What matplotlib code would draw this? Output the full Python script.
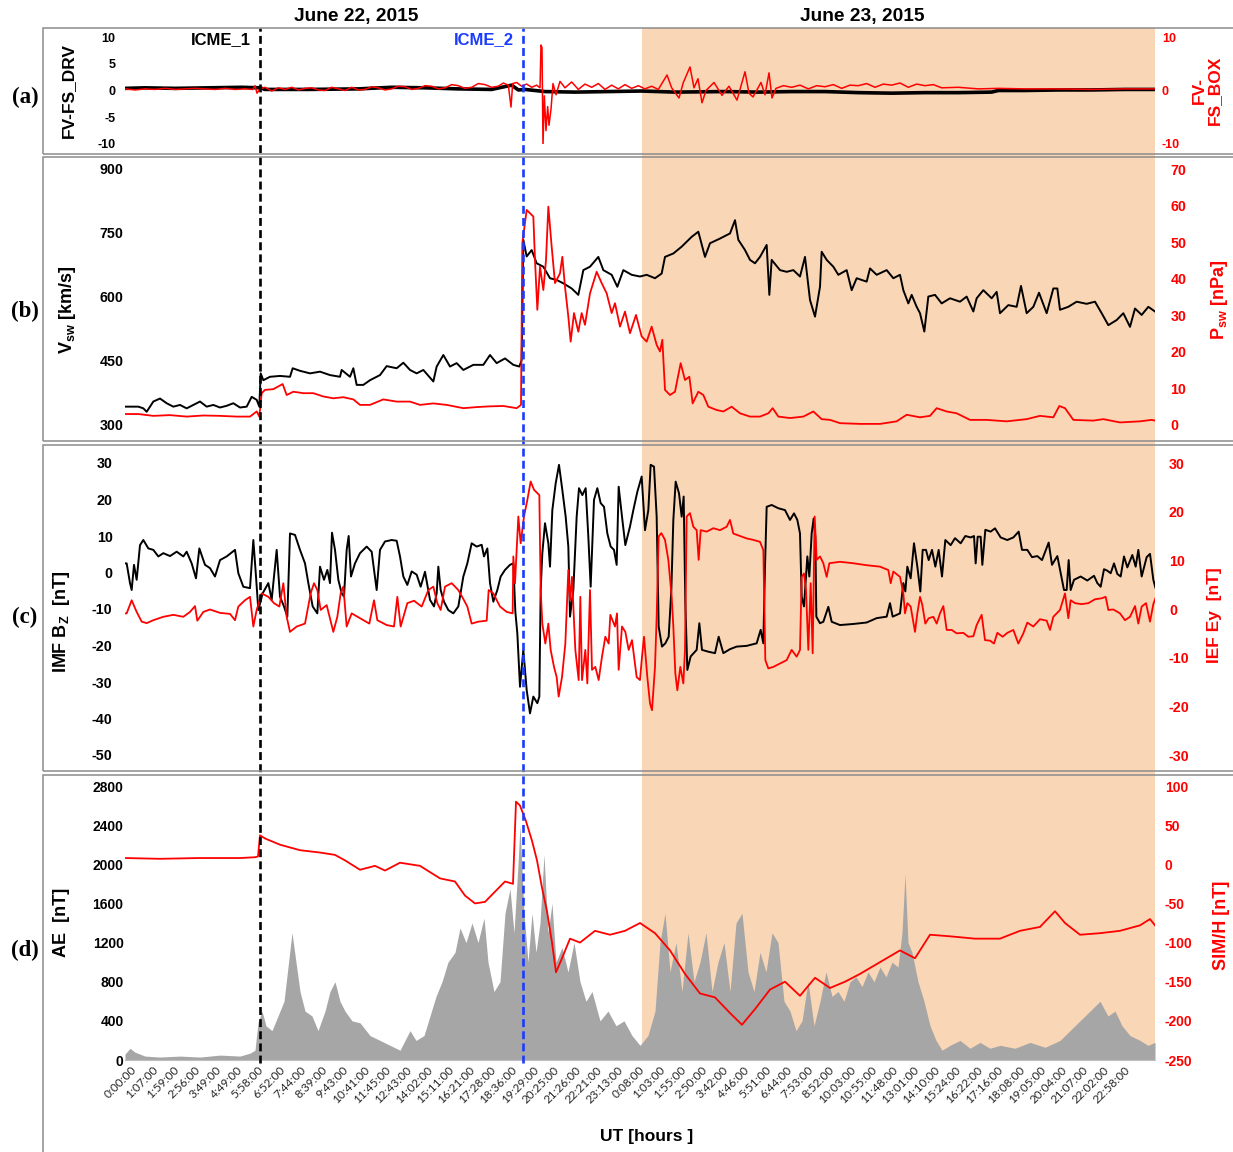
import numpy as np
import matplotlib.pyplot as plt
from matplotlib import transforms
from matplotlib.patches import Rectangle
from matplotlib.lines import Line2D

plt.rcParams['font.family'] = ['Liberation Sans', 'DejaVu Sans']
plt.rcParams['axes.unicode_minus'] = False
plt.rcParams['mathtext.fontset'] = 'custom'
plt.rcParams['mathtext.rm'] = 'Liberation Sans:bold'
plt.rcParams['mathtext.it'] = 'Liberation Sans:bold'
plt.rcParams['mathtext.bf'] = 'Liberation Sans:bold'

# x axis: record number of the merged 1-min data set (category axis)
TIMES = ['0:00:00', '1:07:00', '1:59:00', '2:56:00', '3:49:00', '4:49:00', '5:58:00', '6:52:00',
         '7:44:00', '8:39:00', '9:43:00', '10:41:00', '11:45:00', '12:43:00', '14:02:00', '15:11:00',
         '16:21:00', '17:28:00', '18:36:00', '19:29:00', '20:25:00', '21:26:00', '22:21:00', '23:13:00',
         '0:08:00', '1:03:00', '1:55:00', '2:50:00', '3:42:00', '4:46:00', '5:51:00', '6:44:00',
         '7:53:00', '8:52:00', '10:03:00', '10:55:00', '11:48:00', '13:01:00', '14:10:00', '15:24:00',
         '16:22:00', '17:16:00', '18:08:00', '19:05:00', '20:04:00', '21:07:00', '22:02:00', '22:58:00']
TICK0, TICK_STEP = 30, 63.4
N_REC = 3090
ICME_1 = 405
ICME_2 = 1194
SHADE_START = 1551

# (a) FV-FS_DRV (black) and FV-FS_BOX (red)
fv_drv = [(0, 0.4), (60, 0.5), (150, 0.4), (250, 0.5), (350, 0.6), (405, 0.5), (420, 0.2), (550, 0.2),
          (700, 0.3), (800, 0.6), (900, 0.5), (1000, 0.3), (1100, 0.2), (1160, 1.0), (1180, 0.1),
          (1200, 0.2), (1260, -0.2), (1350, -0.3), (1450, -0.2), (1550, -0.1), (1650, -0.3),
          (1800, -0.2), (1900, -0.3), (2000, -0.2), (2100, -0.2), (2200, -0.4), (2300, -0.5),
          (2400, -0.4), (2500, -0.4), (2600, -0.3), (2620, 0.0), (2700, 0.0), (2800, 0.1),
          (2900, 0.1), (3000, 0.2), (3090, 0.2)]
fv_box = [(0, 0.3), (30, 0.1), (60, 0.3), (90, 0.2), (120, 0.4), (150, 0.2), (180, 0.3), (210, 0.4),
          (240, 0.3), (270, 0.2), (300, 0.4), (330, 0.2), (360, 0.3), (384, 0.2), (390, 0.9),
          (396, -0.5), (405, 0.3), (420, 0.6), (440, -0.1), (460, 0.5), (480, 0.2), (500, 0.6),
          (520, 0.1), (540, 0.4), (560, 0.5), (580, 0.1), (600, 0.0), (620, 0.6), (640, 0.3),
          (660, 0.0), (680, 0.6), (700, 0.1), (720, 0.2), (740, 0.7), (760, 0.5), (780, 0.1),
          (800, 0.3), (820, 0.8), (840, 0.7), (860, 0.2), (880, 0.4), (900, 0.9), (920, 0.8),
          (940, 0.3), (960, 0.5), (980, 1.1), (1000, 0.9), (1020, 0.4), (1040, 0.6), (1060, 1.3),
          (1080, 1.1), (1100, 0.6), (1120, 0.8), (1135, 1.4), (1150, 1.0), (1158, -3.1), (1163, 1.3),
          (1175, 1.5), (1190, 0.8), (1205, 1.2), (1220, 0.6), (1235, 1.0), (1245, 0.5), (1248, 8.5),
          (1251, 8.0), (1254, -10.2), (1258, -1.0), (1263, -7.5), (1268, -3.0), (1272, -6.5),
          (1278, -3.5), (1284, 1.3), (1293, -0.8), (1305, 1.7), (1320, 0.5), (1340, 1.6), (1360, 0.2),
          (1380, 1.2), (1400, 0.6), (1420, 1.3), (1440, 0.2), (1460, 1.0), (1480, 0.3), (1500, 1.1),
          (1520, 0.4), (1540, 0.9), (1560, 0.3), (1580, 0.8), (1600, 0.2), (1626, 2.9), (1640, 0.5),
          (1662, -1.4), (1675, 1.5), (1695, 4.4), (1707, 0.5), (1719, 2.2), (1731, -2.3), (1743, 0.0),
          (1767, 1.5), (1791, -0.9), (1812, 0.8), (1836, -1.8), (1860, 3.5), (1872, -0.5), (1884, -1.2),
          (1908, 1.5), (1920, -0.8), (1932, 3.3), (1941, -1.4), (1953, 0.4), (1975, 0.9), (2000, 0.6),
          (2025, 1.0), (2050, 0.3), (2075, 0.9), (2100, 0.7), (2125, 1.1), (2150, 0.4), (2175, 1.0),
          (2200, 0.9), (2225, 1.3), (2250, 0.6), (2275, 1.2), (2300, 1.0), (2325, 1.4), (2350, 0.6),
          (2375, 1.2), (2400, 0.9), (2425, 1.1), (2450, 0.5), (2500, 0.6), (2560, 0.3), (2620, 0.4),
          (2700, 0.3), (2800, 0.3), (2900, 0.2), (3000, 0.3), (3090, 0.3)]

# (b) solar wind speed (black, km/s) and dynamic pressure (red, nPa)
v_sw = [(0, 343), (40, 343), (55, 339), (65, 331), (85, 355), (105, 362), (125, 351), (145, 343),
        (165, 347), (185, 339), (205, 347), (225, 355), (245, 343), (265, 347), (285, 341), (305, 345),
        (325, 351), (345, 341), (365, 343), (380, 366), (395, 359), (403, 343), (407, 421), (415, 405),
        (435, 413), (465, 415), (495, 413), (503, 433), (525, 427), (555, 421), (585, 425), (615, 417),
        (645, 413), (650, 429), (675, 413), (685, 433), (695, 394), (715, 394), (735, 405), (765, 417),
        (785, 438), (815, 433), (835, 446), (855, 429), (875, 421), (895, 429), (925, 402), (935, 437),
        (955, 464), (975, 437), (995, 445), (1015, 429), (1045, 441), (1075, 441), (1095, 464),
        (1115, 445), (1140, 456), (1165, 441), (1183, 437), (1190, 452), (1195, 734), (1205, 695),
        (1220, 710), (1235, 679), (1255, 671), (1275, 644), (1295, 640), (1315, 632), (1340, 620),
        (1360, 605), (1375, 663), (1395, 671), (1420, 694), (1435, 663), (1460, 652), (1477, 624),
        (1495, 663), (1520, 652), (1545, 648), (1565, 652), (1590, 644), (1610, 655), (1620, 694),
        (1645, 702), (1670, 718), (1700, 741), (1720, 753), (1740, 694), (1755, 726), (1785, 737),
        (1815, 749), (1830, 780), (1840, 734), (1860, 710), (1875, 687), (1890, 679), (1905, 694),
        (1925, 722), (1933, 605), (1940, 687), (1965, 663), (1985, 659), (2005, 663), (2025, 648),
        (2040, 694), (2055, 593), (2070, 554), (2085, 624), (2090, 706), (2105, 687), (2125, 671),
        (2140, 652), (2165, 663), (2180, 616), (2195, 644), (2225, 636), (2235, 667), (2255, 652),
        (2285, 663), (2305, 644), (2325, 652), (2335, 616), (2350, 585), (2360, 605), (2375, 577),
        (2385, 562), (2398, 519), (2410, 601), (2430, 605), (2450, 585), (2475, 597), (2505, 589),
        (2525, 601), (2545, 566), (2555, 597), (2575, 616), (2600, 597), (2615, 612), (2625, 562),
        (2650, 581), (2675, 577), (2688, 626), (2705, 562), (2725, 577), (2742, 610), (2765, 562),
        (2785, 620), (2797, 620), (2805, 570), (2830, 577), (2855, 589), (2885, 584), (2910, 589),
        (2930, 562), (2950, 534), (2975, 546), (2995, 562), (3015, 530), (3030, 573), (3050, 558),
        (3070, 577), (3090, 566)]
p_sw = [(0, 3.0), (40, 3.0), (85, 2.5), (135, 2.7), (185, 2.3), (235, 2.6), (285, 2.5), (335, 2.3),
        (375, 2.3), (395, 3.7), (403, 2.3), (410, 8.7), (420, 9.6), (445, 9.8), (473, 11.2), (485, 8.2),
        (505, 9.1), (535, 8.7), (565, 8.7), (595, 7.8), (625, 7.3), (655, 7.6), (685, 7.0), (705, 5.5),
        (735, 5.5), (775, 7.0), (815, 6.4), (855, 6.4), (885, 5.5), (925, 5.9), (965, 5.5), (1015, 4.6),
        (1055, 4.9), (1095, 5.1), (1135, 5.2), (1175, 4.6), (1188, 5.5), (1192, 49.7), (1205, 58.8),
        (1215, 57.9), (1225, 57.0), (1230, 45.1), (1237, 31.5), (1245, 43.3), (1255, 36.9),
        (1263, 45.1), (1270, 59.7), (1280, 48.8), (1290, 38.8), (1305, 41.5), (1312, 46.0),
        (1320, 37.8), (1330, 29.6), (1337, 22.8), (1347, 30.6), (1360, 25.5), (1370, 30.6),
        (1380, 27.4), (1395, 36.0), (1415, 41.9), (1430, 38.8), (1445, 36.0), (1460, 30.6),
        (1470, 33.3), (1485, 26.9), (1500, 31.0), (1515, 25.1), (1533, 30.1), (1550, 24.2),
        (1565, 22.8), (1580, 26.9), (1595, 21.9), (1605, 20.1), (1612, 23.3), (1620, 9.6), (1635, 8.2),
        (1650, 9.1), (1667, 16.9), (1680, 12.3), (1693, 13.2), (1703, 5.9), (1720, 9.1), (1735, 8.2),
        (1750, 5.0), (1775, 4.1), (1795, 3.7), (1820, 5.0), (1845, 3.2), (1875, 2.3), (1905, 2.3),
        (1930, 3.2), (1943, 4.6), (1960, 2.3), (1995, 1.9), (2035, 2.3), (2065, 3.7), (2090, 1.6),
        (2115, 1.4), (2145, 0.5), (2205, 0.3), (2265, 0.3), (2315, 1.0), (2345, 2.8), (2385, 2.1),
        (2415, 2.5), (2435, 4.6), (2465, 3.7), (2495, 3.2), (2535, 1.4), (2585, 1.4), (2645, 1.0),
        (2705, 1.6), (2745, 2.5), (2785, 2.1), (2803, 5.2), (2820, 4.6), (2845, 1.4), (2905, 1.2),
        (2935, 1.6), (2985, 0.7), (3045, 1.0), (3080, 1.4), (3090, 1.2)]

# (c) IMF Bz (black, nT) and IEF Ey (red)
bz = [(0, 2.5), (5, 2.5), (15, -2.9), (20, -4.8), (27, 2.1), (35, -2.0), (45, 7.5), (55, 8.9), (70, 6.6),
      (85, 6.2), (100, 4.4), (115, 5.3), (135, 4.5), (155, 5.7), (175, 4.4), (185, 5.7), (200, 2.5),
      (213, -1.6), (223, 6.6), (240, 2.1), (255, 1.2), (270, -1.1), (285, 3.4), (305, 4.4), (330, 6.2),
      (340, -0.2), (355, -3.9), (375, -4.3), (385, 8.9), (393, -1.1), (400, -10.3), (413, -5.7),
      (430, -2.9), (440, -7.5), (455, 6.2), (465, -6.6), (477, -9.3), (487, -12.1), (495, 10.7),
      (510, 10.3), (525, 6.2), (540, 2.5), (550, -2.9), (563, -9.3), (577, -11.2), (585, 1.6),
      (597, -2.0), (607, 0.7), (615, -2.9), (621, 10.9), (630, 6.2), (640, -2.0), (650, -5.7),
      (657, -6.6), (665, 6.2), (671, 10.0), (678, -1.1), (690, 2.5), (705, 5.3), (725, 7.1), (740, 5.7),
      (747, 0.7), (755, -4.8), (765, 6.2), (780, 8.5), (800, 8.9), (815, 8.7), (825, 4.4), (835, -1.1),
      (847, -3.4), (860, 0.3), (875, -0.6), (887, -3.9), (900, 0.2), (915, -7.5), (927, -9.3),
      (935, -5.7), (940, 1.6), (947, -4.8), (957, -8.0), (970, -10.3), (985, -11.2), (1000, -9.3),
      (1015, -1.1), (1027, 2.5), (1040, 8.0), (1055, 7.1), (1070, 7.6), (1077, 4.4), (1087, 6.6),
      (1095, -2.9), (1105, -8.0), (1117, -4.8), (1127, -1.1), (1140, 0.7), (1155, 2.1), (1165, 2.5),
      (1171, -10.7), (1177, -16.7), (1185, -31.3), (1195, -21.2), (1205, -32.2), (1215, -38.6),
      (1225, -34.0), (1237, -35.8), (1243, -34.0), (1247, -4.8), (1252, 5.3), (1260, 13.5), (1270, 8.0),
      (1275, 1.6), (1282, 17.1), (1292, 24.4), (1302, 29.5), (1312, 22.6), (1322, 15.3), (1330, 7.1),
      (1335, -12.1), (1345, -4.8), (1355, 15.3), (1362, 23.1), (1372, 21.2), (1382, 23.1), (1390, 9.8),
      (1397, -3.9), (1407, 19.9), (1417, 23.1), (1427, 19.0), (1437, 18.0), (1447, 10.7), (1457, 7.1),
      (1467, 6.2), (1475, 2.1), (1481, 23.5), (1491, 15.3), (1501, 7.5), (1515, 12.6), (1525, 17.1),
      (1537, 22.1), (1550, 26.3), (1560, 11.6), (1570, 17.1), (1577, 29.5), (1587, 29.0), (1595, 15.3),
      (1601, -14.8), (1611, -20.3), (1621, -19.4), (1631, -17.6), (1639, -4.8), (1645, 14.4),
      (1652, 24.9), (1662, 21.7), (1670, 15.3), (1676, 20.8), (1681, -8.4), (1687, -26.7),
      (1697, -23.0), (1715, -21.2), (1723, -13.9), (1731, -21.2), (1750, -21.7), (1770, -22.1),
      (1781, -17.6), (1795, -22.1), (1815, -21.0), (1835, -20.3), (1865, -20.1), (1895, -19.4),
      (1907, -15.7), (1915, -19.4), (1920, 1.6), (1925, 18.0), (1940, 18.5), (1960, 17.6), (1980, 17.1),
      (1995, 14.4), (2007, 16.2), (2017, 14.4), (2025, 10.7), (2030, -6.6), (2037, -9.3), (2043, -1.1),
      (2047, 4.4), (2053, -1.1), (2060, 10.7), (2066, 14.8), (2071, 9.8), (2074, -12.1), (2085, -13.9),
      (2095, -13.5), (2110, -9.4), (2120, -13.5), (2145, -14.4), (2185, -14.1), (2225, -13.7),
      (2255, -12.5), (2285, -12.1), (2295, -8.4), (2303, -12.1), (2325, -11.2), (2335, -2.9),
      (2341, -5.2), (2347, 1.6), (2357, -1.6), (2367, 8.0), (2377, 1.6), (2386, -5.2), (2393, 6.2),
      (2403, 6.2), (2411, 3.4), (2421, 6.2), (2431, 1.6), (2441, 6.2), (2451, -1.1), (2461, 8.9),
      (2477, 7.5), (2490, 9.4), (2507, 8.0), (2521, 10.0), (2537, 9.6), (2547, 10.0), (2552, 2.5),
      (2558, 9.8), (2567, 9.8), (2572, 2.1), (2581, 11.7), (2597, 11.2), (2610, 12.1), (2627, 9.6),
      (2647, 8.9), (2665, 9.6), (2681, 11.2), (2691, 6.2), (2707, 6.2), (2721, 4.2), (2737, 4.5),
      (2751, 3.4), (2771, 8.2), (2781, 2.1), (2797, 4.5), (2807, -0.2), (2817, -4.8), (2825, -4.8),
      (2831, 3.4), (2837, -4.8), (2847, -2.0), (2867, -1.1), (2887, -2.2), (2907, -0.9), (2917, -2.9),
      (2927, -3.9), (2937, 0.9), (2947, 0.5), (2957, -0.2), (2967, 2.5), (2977, -0.4), (2987, -1.1),
      (2997, 4.4), (3007, 1.4), (3022, 4.8), (3032, 1.6), (3040, 6.2), (3050, -1.1), (3065, 4.2),
      (3075, 5.1), (3085, -2.0), (3091, -4.1)]
ey = [(0, -0.9), (5, -0.9), (20, 1.8), (35, -0.6), (50, -2.6), (65, -2.9), (85, -2.3), (115, -1.6),
      (145, -1.2), (175, -1.6), (195, -0.6), (210, 0.6), (217, -2.4), (235, -0.6), (255, -0.1),
      (285, -0.8), (315, -1.0), (330, -2.3), (340, 0.5), (360, 1.8), (375, 2.5), (385, -3.6),
      (395, -0.2), (410, 3.2), (430, 2.5), (447, 1.2), (463, 0.5), (475, 5.3), (485, -1.6), (495, -4.7),
      (515, -3.6), (540, -3.0), (557, 3.2), (567, 5.3), (577, 3.9), (587, -0.2), (605, 0.8), (625, -4.7),
      (637, -1.6), (647, 3.2), (655, 4.6), (665, -3.6), (680, -0.9), (705, -1.9), (733, -3.0),
      (747, 1.8), (757, -2.3), (785, -3.3), (807, -3.6), (817, 2.5), (827, -3.6), (847, 1.2),
      (867, 1.7), (890, 0.5), (910, 3.9), (925, 4.6), (937, 1.2), (947, -0.2), (960, 4.6), (980, 5.3),
      (1000, 3.9), (1017, 1.8), (1027, 0.5), (1040, -3.0), (1060, -2.6), (1085, -2.4), (1091, 3.9),
      (1105, 3.2), (1125, 0.5), (1145, -0.6), (1163, -0.9), (1165, 10.8), (1170, 5.3), (1180, 19.0),
      (1187, 13.5), (1197, 19.0), (1207, 22.4), (1217, 26.2), (1227, 24.5), (1237, 23.8), (1243, 23.4),
      (1247, 3.9), (1252, -3.0), (1261, -7.1), (1270, -3.0), (1277, -8.4), (1287, -11.9), (1295, -14.0),
      (1301, -18.0), (1311, -14.0), (1321, -7.1), (1330, 8.0), (1335, 1.8), (1341, 6.6), (1351, -8.4),
      (1361, -14.6), (1366, 2.5), (1371, -14.6), (1381, -8.4), (1387, -15.3), (1395, 3.9),
      (1401, -12.5), (1411, -11.9), (1421, -14.6), (1431, -9.8), (1441, -5.7), (1451, -7.1),
      (1456, -1.2), (1470, -3.6), (1476, -0.9), (1481, -12.5), (1491, -3.6), (1501, -4.7), (1511, -8.4),
      (1521, -6.4), (1535, -14.0), (1545, -14.6), (1551, -9.8), (1557, -5.7), (1567, -14.0),
      (1575, -19.4), (1581, -20.8), (1590, -11.9), (1595, -1.6), (1601, 14.9), (1609, 15.6),
      (1620, 14.2), (1630, 10.1), (1640, 2.5), (1645, -3.6), (1651, -13.2), (1657, -16.7), (1666, -11.9),
      (1675, -15.3), (1680, -8.4), (1685, 19.0), (1695, 19.7), (1705, 16.9), (1715, 16.2), (1721, 10.1),
      (1727, 16.2), (1745, 15.9), (1765, 16.6), (1785, 16.2), (1805, 16.9), (1815, 18.3), (1825, 15.5),
      (1845, 15.0), (1865, 14.5), (1885, 14.2), (1905, 13.8), (1915, 12.1), (1921, -10.5),
      (1930, -12.2), (1945, -11.9), (1965, -11.2), (1985, -10.5), (2000, -8.4), (2015, -9.8),
      (2025, -8.4), (2030, 6.6), (2037, 7.3), (2043, 3.9), (2050, -8.4), (2057, 5.3), (2063, -9.1),
      (2069, 19.0), (2075, 10.1), (2085, 10.8), (2095, 9.4), (2105, 6.6), (2113, 9.4), (2145, 9.7),
      (2185, 9.4), (2225, 9.0), (2265, 8.7), (2290, 8.0), (2297, 5.3), (2305, 7.7), (2325, 6.6),
      (2335, 3.2), (2340, -0.9), (2347, 1.2), (2357, 0.5), (2370, -4.7), (2377, -0.9), (2385, 2.5),
      (2392, 0.8), (2401, -3.0), (2411, -1.9), (2425, -1.6), (2435, -3.0), (2445, -0.9), (2455, 0.6),
      (2465, -4.3), (2480, -4.3), (2495, -5.0), (2515, -4.9), (2530, -5.7), (2545, -5.6), (2555, -3.3),
      (2570, -1.2), (2580, -6.4), (2595, -6.5), (2607, -7.1), (2617, -4.9), (2633, -5.7), (2647, -4.9),
      (2665, -4.3), (2680, -7.1), (2695, -5.0), (2707, -2.8), (2725, -3.6), (2745, -2.1), (2765, -2.4),
      (2775, -4.3), (2785, -1.6), (2805, -0.2), (2820, 3.2), (2830, -1.9), (2837, 1.8), (2850, 1.2),
      (2870, 1.0), (2890, 1.2), (2910, 2.0), (2930, 2.2), (2942, 2.5), (2950, -0.2), (2965, -0.1),
      (2985, -0.9), (3000, -2.3), (3015, -1.6), (3030, 0.6), (3040, -3.0), (3050, 0.5), (3063, 1.2),
      (3075, -2.6), (3085, 1.0), (3093, 2.5)]

# (d) AE index (grey area, nT) and SYM/H (red, nT)
ae = [(0, 60), (15, 120), (30, 80), (60, 40), (105, 30), (165, 40), (225, 30), (285, 50), (345, 40),
      (375, 70), (390, 100), (399, 380), (411, 500), (423, 350), (441, 300), (459, 450), (477, 600),
      (489, 950), (501, 1300), (513, 1000), (525, 700), (540, 500), (561, 450), (579, 300), (600, 500),
      (615, 700), (630, 800), (645, 600), (660, 500), (681, 400), (705, 380), (735, 250), (765, 200),
      (795, 150), (825, 100), (840, 200), (855, 300), (873, 200), (897, 250), (915, 450), (933, 650),
      (951, 800), (969, 1000), (990, 1100), (1005, 1350), (1023, 1200), (1041, 1400), (1059, 1200),
      (1077, 1450), (1089, 1000), (1107, 700), (1125, 800), (1140, 1500), (1155, 1750), (1167, 1300),
      (1179, 2000), (1185, 2400), (1197, 1500), (1209, 1000), (1221, 1500), (1233, 1100), (1245, 1400),
      (1257, 2100), (1269, 1300), (1281, 1600), (1293, 1000), (1311, 1150), (1329, 900), (1347, 1200),
      (1365, 800), (1383, 600), (1401, 700), (1425, 400), (1449, 500), (1473, 350), (1497, 400),
      (1521, 250), (1545, 150), (1569, 250), (1590, 500), (1605, 1200), (1620, 1500), (1635, 900),
      (1653, 1200), (1671, 700), (1689, 1300), (1707, 800), (1725, 1000), (1743, 1300), (1761, 700),
      (1779, 1000), (1797, 1200), (1815, 700), (1833, 1400), (1851, 1500), (1869, 900), (1887, 700),
      (1905, 1100), (1923, 900), (1941, 1300), (1959, 1200), (1977, 600), (1995, 500), (2013, 300),
      (2031, 400), (2049, 800), (2067, 350), (2085, 600), (2103, 900), (2121, 650), (2139, 700),
      (2157, 600), (2175, 800), (2193, 850), (2211, 750), (2229, 900), (2247, 800), (2265, 950),
      (2283, 850), (2301, 1000), (2319, 950), (2331, 1300), (2340, 1900), (2349, 1200), (2361, 1100),
      (2379, 800), (2397, 600), (2415, 350), (2433, 200), (2451, 100), (2475, 150), (2505, 200),
      (2535, 120), (2565, 180), (2595, 120), (2625, 150), (2670, 120), (2715, 180), (2760, 130),
      (2805, 200), (2835, 300), (2865, 400), (2895, 500), (2925, 600), (2949, 450), (2970, 500),
      (2991, 350), (3015, 250), (3045, 200), (3069, 150), (3090, 180)]
sym_h = [(0, 8), (105, 7), (225, 8), (345, 8), (390, 9), (399, 10), (405, 37), (420, 33), (465, 25),
         (525, 18), (585, 15), (630, 12), (660, 5), (705, -7), (750, -2), (780, -8), (825, 2), (885, -2),
         (945, -18), (990, -22), (1020, -40), (1050, -50), (1080, -48), (1110, -35), (1140, -22),
         (1164, -25), (1173, 80), (1185, 75), (1203, 55), (1221, 30), (1236, 5), (1251, -30), (1266, -60),
         (1281, -100), (1293, -138), (1311, -120), (1335, -95), (1365, -100), (1410, -85), (1455, -90),
         (1500, -85), (1545, -75), (1590, -88), (1635, -110), (1680, -140), (1725, -165), (1770, -170),
         (1815, -190), (1851, -205), (1890, -185), (1935, -160), (1980, -150), (2025, -168), (2070, -145),
         (2115, -158), (2160, -150), (2205, -140), (2265, -125), (2325, -110), (2370, -120), (2415, -90),
         (2475, -92), (2550, -95), (2625, -95), (2685, -85), (2745, -80), (2790, -60), (2820, -75),
         (2865, -90), (2925, -88), (2985, -85), (3045, -78), (3075, -70), (3090, -78)]

W, H = 1233, 1152
RED = '#ff0000'
BLUE = '#1a3cff'
PEACH = '#f9d6b5'


def xy(pairs):
    arr = np.array(pairs, dtype=float)
    return arr[:, 0], arr[:, 1]


def fx(px):
    return px / W


def fy(py):
    return 1 - py / H


fig = plt.figure(figsize=(W / 100, H / 100), dpi=100)


def make_axes(top, bottom):
    ax = fig.add_axes([fx(125), fy(bottom), fx(1155) - fx(125), fy(top) - fy(bottom)])
    ax.set_facecolor('none')
    ax2 = ax.twinx()
    ax2.set_facecolor('none')
    for a in (ax, ax2):
        for s in a.spines.values():
            s.set_visible(False)
        a.set_xlim(0, N_REC)
        a.tick_params(length=0)
    ax.set_xticks([])
    return ax, ax2


ax_a, ax_a2 = make_axes(37, 144)
ax_b, ax_b2 = make_axes(169, 425)
ax_c, ax_c2 = make_axes(463, 755)
ax_d, ax_d2 = make_axes(786, 1060)

# (a)
x, y = xy(fv_drv)
ax_a.plot(x, y, color='black', lw=2.6)
x, y = xy(fv_box)
ax_a2.plot(x, y, color=RED, lw=1.1)
ax_a.set_ylim(-10, 10)
ax_a2.set_ylim(-10, 10)
ax_a.set_yticks([-10, -5, 0, 5, 10])
ax_a2.set_yticks([-10, 0, 10])
ax_a.tick_params(axis='y', pad=7, labelsize=9)
ax_a2.tick_params(axis='y', pad=5, labelsize=9, labelcolor=RED)

# (b)
x, y = xy(v_sw)
ax_b.plot(x, y, color='black', lw=1.4)
x, y = xy(p_sw)
ax_b2.plot(x, y, color=RED, lw=1.3)
ax_b.set_ylim(300, 900)
ax_b.set_yticks(np.arange(300, 901, 150))
ax_b2.set_ylim(0, 70)
ax_b2.set_yticks(np.arange(0, 71, 10))
ax_b.tick_params(axis='y', pad=1, labelsize=10.3)
ax_b2.tick_params(axis='y', pad=11, labelsize=10.3, labelcolor=RED)

# (c)
x, y = xy(bz)
ax_c.plot(x, y, color='black', lw=1.4)
x, y = xy(ey)
ax_c2.plot(x, y, color=RED, lw=1.3)
ax_c.set_ylim(-50, 30)
ax_c.set_yticks(np.arange(-50, 31, 10))
ax_c2.set_ylim(-30, 30)
ax_c2.set_yticks(np.arange(-30, 31, 10))
ax_c.tick_params(axis='y', pad=9, labelsize=10.3)
ax_c2.tick_params(axis='y', pad=10, labelsize=10.3, labelcolor=RED)

# (d)
x, y = xy(ae)
ax_d.fill_between(x, 0, y, color='#a6a6a6', lw=0)
x, y = xy(sym_h)
ax_d2.plot(x, y, color=RED, lw=1.3)
ax_d.set_ylim(0, 2800)
ax_d.set_yticks(np.arange(0, 2801, 400))
ax_d2.set_ylim(-250, 100)
ax_d2.set_yticks(np.arange(-250, 101, 50))
ax_d.tick_params(axis='y', pad=1, labelsize=10)
ax_d2.tick_params(axis='y', pad=7, labelsize=10, labelcolor=RED)
ax_d.spines['bottom'].set_visible(True)
ax_d.spines['bottom'].set_color('#bfbfbf')
ax_d.set_xticks(TICK0 + TICK_STEP * np.arange(len(TIMES)))
ax_d.set_xticklabels(TIMES, rotation=45, ha='right', va='center', rotation_mode='anchor',
                     fontsize=8.5, family='Lato', color='#262626')
ax_d.tick_params(axis='x', pad=6)

for a in (ax_a, ax_a2, ax_b, ax_b2, ax_c, ax_c2, ax_d, ax_d2):
    for lab in a.get_yticklabels():
        lab.set_fontweight('bold')

# shaded interval and ICME markers across all panels
blend = transforms.blended_transform_factory(ax_d.transData, fig.transFigure)
fig.add_artist(Rectangle((SHADE_START, fy(1060)), N_REC - SHADE_START, fy(28) - fy(1060),
                         transform=blend, color=PEACH, lw=0, zorder=-1))
fig.add_artist(Line2D([ICME_1, ICME_1], [fy(1063), fy(28)], transform=blend, color='black',
                      lw=1.9, ls=(0, (3, 1.6)), zorder=5))
fig.add_artist(Line2D([ICME_2, ICME_2], [fy(1063), fy(28)], transform=blend, color=BLUE,
                      lw=1.9, ls=(0, (3, 1.6)), zorder=5))

# panel frames
for top, bot in [(28, 154), (157, 441), (445, 771), (775, 1160)]:
    fig.add_artist(Rectangle((fx(43), fy(bot)), fx(1400) - fx(43), fy(top) - fy(bot),
                             transform=fig.transFigure, fill=False, edgecolor='#8c8c8c',
                             lw=1.1, zorder=6))

# texts
fig.text(fx(356), fy(17), 'June 22, 2015', ha='center', va='center', fontsize=13.8, fontweight='bold')
fig.text(fx(862), fy(17), 'June 23, 2015', ha='center', va='center', fontsize=13.8, fontweight='bold')
fig.text(fx(251), fy(40), 'ICME_1', ha='right', va='center', fontsize=12, fontweight='bold')
fig.text(fx(514), fy(40), 'ICME_2', ha='right', va='center', fontsize=12, fontweight='bold',
         color=BLUE)

for py, lab in [(97, '(a)'), (311, '(b)'), (617, '(c)'), (950, '(d)')]:
    fig.text(fx(25), fy(py), lab, ha='center', va='center', fontsize=16.5, fontweight='bold',
             family='Liberation Serif')

fig.text(fx(68), fy(90), 'FV-FS_DRV', rotation=90, ha='center', va='center', fontsize=12.5,
         fontweight='bold')
fig.text(fx(68), fy(310), r'V$_{sw}$ [km/s]', rotation=90, ha='center', va='center',
         fontsize=13, fontweight='bold')
fig.text(fx(62), fy(622), r'IMF B$_{Z}$  [nT]', rotation=90, ha='center', va='center',
         fontsize=13, fontweight='bold')
fig.text(fx(62), fy(922), 'AE  [nT]', rotation=90, ha='center', va='center', fontsize=13,
         fontweight='bold')

fig.text(fx(1207), fy(90), 'FV-\nFS_BOX', rotation=90, ha='center', va='center', fontsize=12.5,
         fontweight='bold', color=RED, linespacing=1.0)
fig.text(fx(1220), fy(300), r'P$_{sw}$ [nPa]', rotation=90, ha='center', va='center',
         fontsize=13, fontweight='bold', color=RED)
fig.text(fx(1215), fy(615), 'IEF Ey  [nT]', rotation=90, ha='center', va='center', fontsize=12.5,
         fontweight='bold', color=RED)
fig.text(fx(1221), fy(925), 'SIM/H [nT]', rotation=90, ha='center', va='center', fontsize=13,
         fontweight='bold', color=RED)
fig.text(fx(647), fy(1137), 'UT [hours ]', ha='center', va='center', fontsize=12.5,
         fontweight='bold')

fig.savefig('out.png', dpi=100)
